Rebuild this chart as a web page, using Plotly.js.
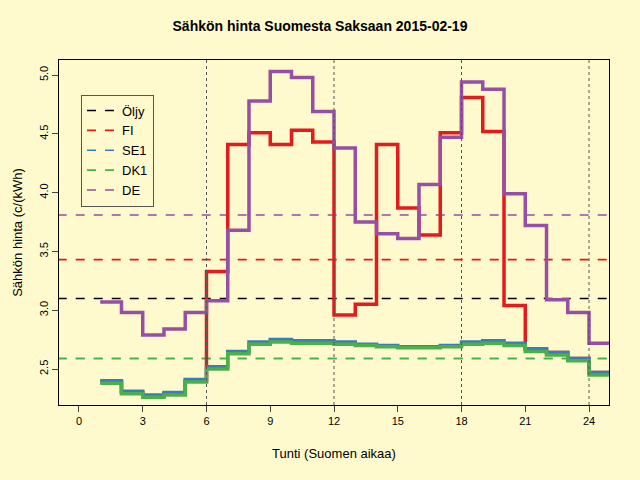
<!DOCTYPE html>
<html>
<head>
<meta charset="utf-8">
<script src="https://cdn.plot.ly/plotly-3.0.1.min.js"></script>
<style>body{margin:0;background:#fffacd}</style>
</head>
<body>
<div id="chart" style="width:640px;height:480px"></div>
<script>
// hourly prices c/kWh, hour 1..24 (last value repeated at 25 for the step)
const hours = [1,2,3,4,5,6,7,8,9,10,11,12,13,14,15,16,17,18,19,20,21,22,23,24,25];
const fi  = [2.39,2.30,2.27,2.29,2.40,3.33,4.41,4.51,4.41,4.53,4.43,2.96,3.05,4.41,3.87,3.64,4.51,4.81,4.52,3.04,2.67,2.64,2.59,2.47,2.47];
const se1 = [2.40,2.31,2.28,2.30,2.41,2.52,2.65,2.73,2.75,2.74,2.74,2.73,2.71,2.70,2.69,2.69,2.70,2.73,2.74,2.72,2.67,2.64,2.59,2.47,2.47];
const dk1 = [2.38,2.29,2.26,2.28,2.39,2.50,2.63,2.71,2.73,2.72,2.72,2.71,2.70,2.69,2.68,2.68,2.69,2.71,2.72,2.70,2.65,2.62,2.57,2.45,2.45];
const de  = [3.07,2.98,2.79,2.84,2.98,3.08,3.68,4.78,5.03,4.98,4.69,4.38,3.75,3.65,3.61,4.07,4.47,4.94,4.88,3.99,3.72,3.09,2.98,2.72,2.72];
const names = ['Öljy','FI','SE1','DK1','DE'];
const colors = ['#000000','#e41a1c','#377eb8','#4daf4a','#984ea3'];
const means = [3.10,3.43,2.59,2.59,3.81];
const series = [null, fi, se1, dk1, de];
const xTicks = [0,3,6,9,12,15,18,21,24];
const yTicks = [2.5,3.0,3.5,4.0,4.5,5.0];

let traces = [];
// dashed mean lines (also used as legend entries)
names.forEach((n, i) => {
  traces.push({x: [-1, 26], y: [means[i], means[i]], mode: 'lines', name: n,
    line: {color: colors[i], width: 1.6, dash: 'dash'}, showlegend: true});
});
// hourly step lines: FI, DE, SE1, DK1
[1, 4, 2, 3].forEach(i => {
  traces.push({x: hours, y: series[i], mode: 'lines', showlegend: false,
    line: {color: colors[i], width: 3.5, shape: 'hv'}});
});

const layout = {
  width: 640, height: 480,
  paper_bgcolor: '#fffacd', plot_bgcolor: '#fffacd',
  margin: {l: 59, r: 31, t: 60, b: 75},
  font: {family: 'Liberation Sans, Arial, sans-serif', size: 11, color: '#000'},
  title: {text: '<b>Sähkön hinta Suomesta Saksaan 2015-02-19</b>', x: 0.5, y: 0.955, font: {size: 14}},
  xaxis: {range: [-0.94, 24.94], tickvals: xTicks, ticks: 'outside', ticklen: 6,
    showgrid: false, zeroline: false, showline: true, mirror: true, linecolor: '#000',
    title: {text: 'Tunti (Suomen aikaa)', standoff: 22}},
  yaxis: {range: [2.194, 5.128], tickvals: yTicks, tickformat: '.1f', ticks: 'outside', ticklen: 6,
    tickangle: -90, showgrid: false, zeroline: false, showline: true, mirror: true, linecolor: '#000',
    title: {text: 'Sähkön hinta (c/(kWh)', standoff: 12}},
  shapes: [6, 12, 18, 24].map(v => ({type: 'line', xref: 'x', yref: 'paper', x0: v, x1: v, y0: 0, y1: 1,
    line: {color: '#555', width: 1, dash: 'dot'}})),
  legend: {x: 0.04, y: 0.9, xanchor: 'left', yanchor: 'top', bgcolor: '#fffacd',
    bordercolor: '#555', borderwidth: 1, font: {size: 13}, tracegroupgap: 0}
};

Plotly.newPlot('chart', traces, layout, {displayModeBar: false});
</script>
</body>
</html>
